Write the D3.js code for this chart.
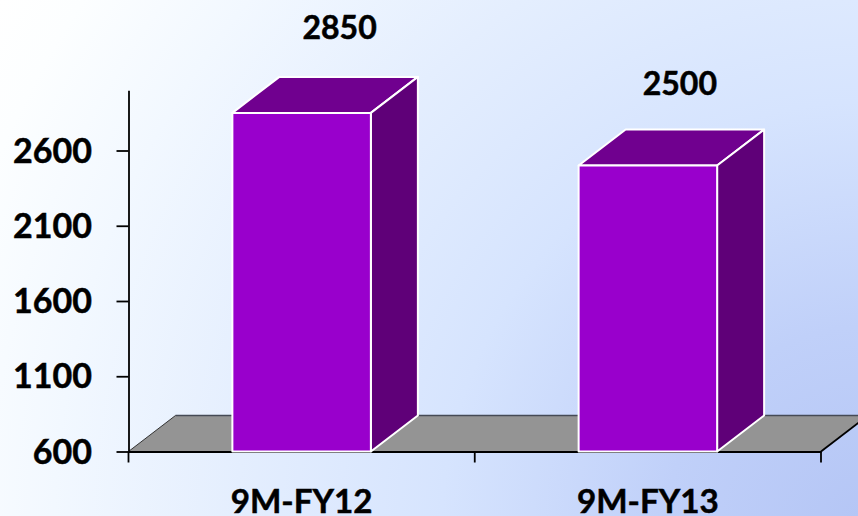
<!DOCTYPE html>
<html><head><meta charset="utf-8">
<script src="https://cdn.jsdelivr.net/npm/d3@7"></script>
<style>html,body{margin:0;padding:0;overflow:hidden}svg{display:block}text{font-family:Lato,"Open Sans",sans-serif;font-weight:700;fill:#000;stroke:#000;stroke-width:.5px}</style>
</head><body><svg id="c" width="858" height="516"></svg>
<script>
const categories = ["9M-FY12", "9M-FY13"];
const values = [2850, 2500];
const yTicks = [600, 1100, 1600, 2100, 2600];

const W = 858, H = 516, DX = 47, DY = -36;
const svg = d3.select("#c");
const defs = svg.append("defs");
const grad = defs.append("radialGradient").attr("id","bg").attr("gradientUnits","userSpaceOnUse")
  .attr("cx",870).attr("cy",530).attr("r",1020);
[[0,"#b4c5f5"],[0.2,"#c0d0f9"],[0.42,"#d6e4fe"],[0.62,"#e4eefe"],[0.8,"#f2f8ff"],[0.93,"#fcfeff"],[1,"#ffffff"]]
  .forEach(([o,c])=>grad.append("stop").attr("offset",o).attr("stop-color",c));
svg.append("rect").attr("width",W).attr("height",H).attr("fill","url(#bg)");

const x = d3.scaleBand().domain(categories).range([128.5,821]).paddingInner(0).paddingOuter(0);
const y = d3.scaleLinear().domain([600,3000]).range([451.5,90.3]);
const bw = x.bandwidth()*0.4;
const pts = a=>a.map(p=>p.join(",")).join(" ");

// floor
const y0 = y(600), xl = x.range()[0], xr = x.range()[1];
svg.append("polygon").attr("points",pts([[xl,y0],[xl+DX,y0+DY],[xr+DX,y0+DY],[xr,y0]])).attr("fill","#949494");
svg.append("line").attr("x1",xl+DX).attr("x2",xr+DX).attr("y1",y0+DY).attr("y2",y0+DY).attr("stroke","#454a55").attr("stroke-width",1.6);
svg.append("line").attr("x1",xl).attr("x2",xl+DX).attr("y1",y0).attr("y2",y0+DY).attr("stroke","#333").attr("stroke-width",1);
svg.append("line").attr("x1",xr).attr("x2",xr+DX).attr("y1",y0).attr("y2",y0+DY).attr("stroke","#000").attr("stroke-width",1.8);

// axes
const axisStyle = g=>{g.selectAll("path,line").attr("stroke","#000").attr("stroke-width",1.8);g.selectAll("text").remove();};
svg.append("g").attr("transform",`translate(${xl},0)`)
  .call(d3.axisLeft(y).tickValues(yTicks).tickSize(12).tickSizeOuter(0)).call(axisStyle);
svg.append("g").attr("transform",`translate(0,${y0})`)
  .call(d3.axisBottom(x).tickValues([]).tickSizeOuter(0)).call(axisStyle);
svg.selectAll(".xt").data(d3.range(categories.length+1)).enter().append("line").attr("class","xt")
  .attr("x1",i=>xl+i*x.step()).attr("x2",i=>xl+i*x.step()).attr("y1",y0).attr("y2",y0+11)
  .attr("stroke","#000").attr("stroke-width",1.8);

svg.selectAll(".yl").data(yTicks).enter().append("text").attr("class","yl")
  .attr("x",92).attr("y",d=>y(d)+12).attr("text-anchor","end").attr("font-size",34).text(d=>d);

// bars
const bars = svg.selectAll(".b").data(categories.map((c,i)=>({c,v:values[i]}))).enter().append("g").attr("class","b");
const bx = d=>x(d.c)+(x.bandwidth()-bw)/2;
const edge = s=>s.attr("stroke","#fff").attr("stroke-width",2).attr("stroke-linejoin","round");
bars.append("polygon").attr("fill","#70008f").call(edge)
  .attr("points",d=>pts([[bx(d),y(d.v)],[bx(d)+DX,y(d.v)+DY],[bx(d)+bw+DX,y(d.v)+DY],[bx(d)+bw,y(d.v)]]));
bars.append("polygon").attr("fill","#5f0078").call(edge)
  .attr("points",d=>pts([[bx(d)+bw,y(d.v)],[bx(d)+bw+DX,y(d.v)+DY],[bx(d)+bw+DX,y0+DY],[bx(d)+bw,y0]]));
bars.append("rect").attr("fill","#9900cc").call(edge)
  .attr("x",bx).attr("y",d=>y(d.v)).attr("width",bw).attr("height",d=>y0-y(d.v));

// labels
const labelDx = [38,32], labelDy = [-74,-71];
bars.append("text").attr("text-anchor","middle").attr("font-size",32)
  .attr("x",(d,i)=>x(d.c)+x.bandwidth()/2+labelDx[i]).attr("y",(d,i)=>y(d.v)+labelDy[i]).text(d=>d.v);
svg.selectAll(".xl").data(categories).enter().append("text").attr("class","xl").attr("text-anchor","middle")
  .attr("font-size",33.2).attr("x",d=>x(d)+x.bandwidth()/2).attr("y",513).text(d=>d);
</script></body></html>
